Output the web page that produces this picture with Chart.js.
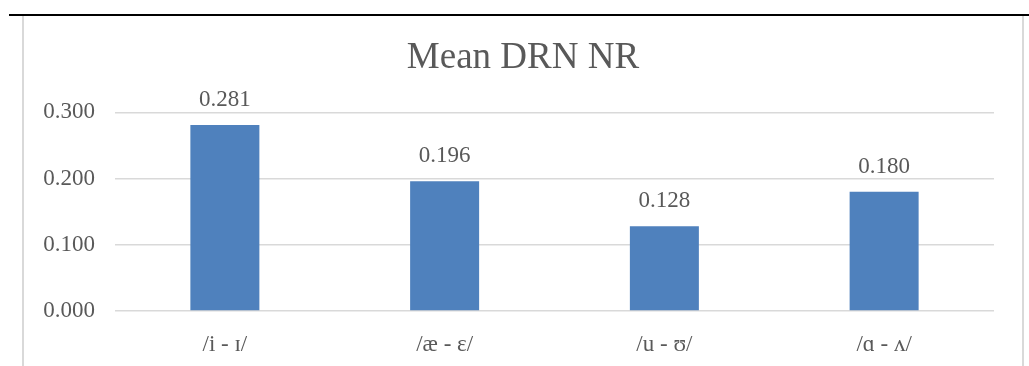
<!DOCTYPE html>
<html>
<head>
<meta charset="utf-8">
<script src="https://cdn.jsdelivr.net/npm/chart.js@4"></script>
<style>
    body { margin: 0; background: #fff; width: 1029px; height: 366px; overflow: hidden; position: relative; }
    #topline { position: absolute; left: 9px; top: 14px; width: 1020px; height: 2px; background: #000; }
    #box { position: absolute; left: 22px; top: 16px; width: 998px; height: 360px;
           border-left: 2px solid #D9D9D9; border-right: 2px solid #D9D9D9; }
    #chart-wrap { position: absolute; left: 0; top: 1px; width: 998px; height: 349px; }
</style>
</head>
<body>
<div id="topline"></div>
<div id="box">
    <div id="chart-wrap"><canvas id="drn-chart"></canvas></div>
</div>
<script>
// Chart data
const categories = ['/i - ɪ/', '/æ - ɛ/', '/u - ʊ/', '/ɑ - ʌ/'];
const meanValues = [0.281, 0.196, 0.128, 0.180];
const yTicks = [0.000, 0.100, 0.200, 0.300];

const textColor = '#595959';
const serif = "'Liberation Serif', 'Times New Roman', serif";

// value labels above each bar
const barLabels = {
    id: 'barLabels',
    afterDatasetsDraw(chart) {
        const ctx = chart.ctx;
        const meta = chart.getDatasetMeta(0);
        ctx.save();
        ctx.font = '23px ' + serif;
        ctx.fillStyle = textColor;
        ctx.textAlign = 'center';
        ctx.textBaseline = 'middle';
        meta.data.forEach((bar, i) => {
            ctx.fillText(meanValues[i].toFixed(3), bar.x, bar.y - 25);
        });
        ctx.restore();
    }
};

const ctx = document.getElementById('drn-chart');
new Chart(ctx, {
    type: 'bar',
    data: {
        labels: categories,
        datasets: [{
            label: 'Mean DRN NR',
            data: meanValues,
            backgroundColor: '#4F81BD',
            categoryPercentage: 1.0,
            barPercentage: 0.314
        }]
    },
    options: {
        responsive: true,
        maintainAspectRatio: false,
        animation: false,
        layout: { padding: 0 },
        plugins: {
            legend: { display: false },
            tooltip: { enabled: false },
            title: {
                display: true,
                text: 'Mean DRN NR',
                color: textColor,
                font: { family: serif, size: 37, weight: 'normal' },
                padding: { top: 19, bottom: 32 }
            }
        },
        scales: {
            x: {
                afterFit(scale) { scale.height = 55; },
                grid: { display: false, drawTicks: false },
                border: { display: false },
                ticks: {
                    color: textColor,
                    font: { family: serif, size: 23 },
                    padding: 20,
                    maxRotation: 0
                }
            },
            y: {
                min: 0,
                max: 0.3,
                afterFit(scale) { scale.width = 91; },
                afterBuildTicks(scale) { scale.ticks = yTicks.map(v => ({ value: v })); },
                grid: { color: '#D9D9D9', lineWidth: 1.5, drawTicks: false },
                border: { display: false },
                ticks: {
                    color: textColor,
                    font: { family: serif, size: 23 },
                    padding: 20,
                    callback: v => Number(v).toFixed(3)
                }
            },
            // empty right-hand axis that keeps the plot off the right border
            yRight: {
                position: 'right',
                afterFit(scale) { scale.width = 28; },
                grid: { display: false, drawTicks: false },
                border: { display: false },
                ticks: { display: false }
            }
        }
    },
    plugins: [barLabels]
});
</script>
</body>
</html>
